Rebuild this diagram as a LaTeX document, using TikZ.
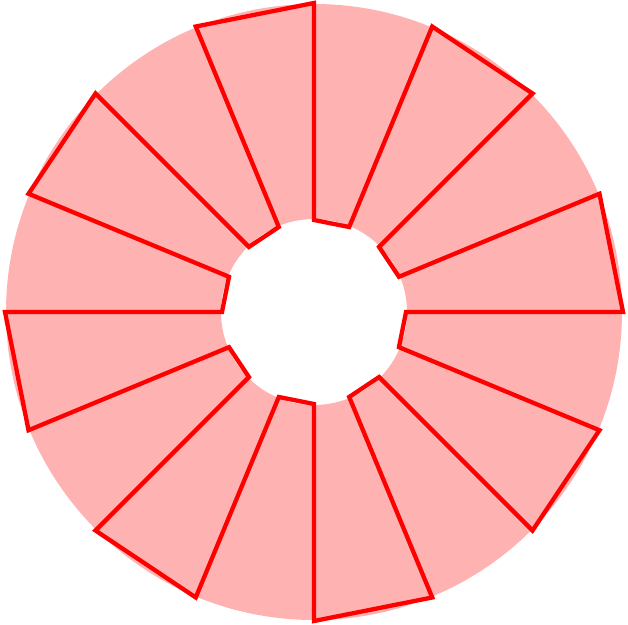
\documentclass[tikz,border=0pt]{standalone}
\begin{document}
\begin{tikzpicture}[x=1pt,y=1pt,
  ring/.style={fill=red!30, draw=none, even odd rule},
  zig/.style={draw=red, line width=4.3pt, line join=miter}]
\useasboundingbox (0,0) rectangle (628,624);
\begin{scope}[shift={(314,312)}]
\path[ring] (0,0) circle (308pt) (0,0) circle (93pt);
\draw[zig] (0:309pt)
  -- (22.5:309pt) -- (22.5:92pt) -- (45:92pt) -- (45:309pt)
  -- (67.5:309pt) -- (67.5:92pt) -- (90:92pt) -- (90:309pt)
  -- (112.5:309pt) -- (112.5:92pt) -- (135:92pt) -- (135:309pt)
  -- (157.5:309pt) -- (157.5:92pt) -- (180:92pt) -- (180:309pt)
  -- (202.5:309pt) -- (202.5:92pt) -- (225:92pt) -- (225:309pt)
  -- (247.5:309pt) -- (247.5:92pt) -- (270:92pt) -- (270:309pt)
  -- (292.5:309pt) -- (292.5:92pt) -- (315:92pt) -- (315:309pt)
  -- (337.5:309pt) -- (337.5:92pt) -- (360:92pt) -- cycle;
\end{scope}
\end{tikzpicture}
\end{document}
